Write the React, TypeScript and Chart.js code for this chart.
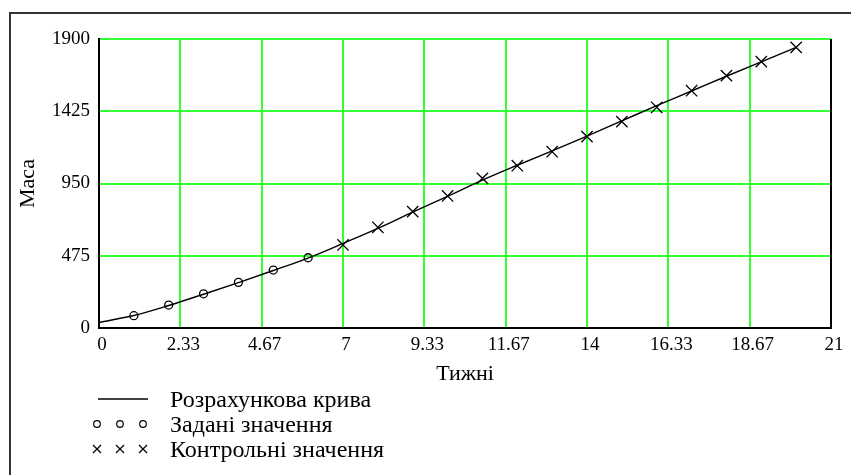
import React, { useEffect, useRef } from "react";
import { Chart, registerables } from "chart.js";

Chart.register(...registerables);

const curveWeeks = [0, 1, 2, 3, 4, 5, 6, 7, 8, 9, 10, 11, 12, 13, 14, 15, 16, 17, 18, 19, 20];
const curveMass = [37, 82, 148, 222, 298, 378, 460, 556, 655, 762, 866, 972, 1070, 1165, 1262, 1362, 1462, 1558, 1655, 1750, 1845];

const givenWeeks = [1, 2, 3, 4, 5, 6];
const givenMass = [81, 151, 225, 300, 381, 462];

const controlWeeks = [7, 8, 9, 10, 11, 12, 13, 14, 15, 16, 17, 18, 19, 20];
const controlMass = [546, 662, 765, 868, 984, 1067, 1159, 1258, 1357, 1451, 1560, 1659, 1751, 1845];

const xTickValues = [0, 2.3333, 4.6667, 7, 9.3333, 11.6667, 14, 16.3333, 18.6667, 21];
const xTickLabels = ["0", "2.33", "4.67", "7", "9.33", "11.67", "14", "16.33", "18.67", "21"];
const yTickValues = [0, 475, 950, 1425, 1900];
const yTickLabels = ["0", "475", "950", "1425", "1900"];

const xTitle = "Тижні";
const yTitle = "Маса";
const legendLabels = ["Розрахункова крива", "Задані значення", "Контрольні значення"];

const FONT = '"Liberation Serif", "Times New Roman", serif';
const GRID = "#33ff33";

export default function App() {
  const ref = useRef<HTMLCanvasElement | null>(null);

  useEffect(() => {
    if (!ref.current) return;

    const framePlugin = {
      id: "frame",
      beforeDraw(chart: any) {
        const ctx = chart.ctx;
        ctx.save();
        ctx.fillStyle = "#ffffff";
        ctx.fillRect(0, 0, chart.width, chart.height);
        ctx.strokeStyle = "#333333";
        ctx.lineWidth = 2;
        ctx.beginPath();
        ctx.moveTo(10, chart.height);
        ctx.lineTo(10, 13);
        ctx.lineTo(chart.width, 13);
        ctx.stroke();
        ctx.restore();
      },
      afterDraw(chart: any) {
        const ctx = chart.ctx;
        const a = chart.chartArea;
        ctx.save();
        ctx.strokeStyle = "#000000";
        ctx.lineWidth = 2;
        ctx.beginPath();
        ctx.moveTo(a.right, a.top);
        ctx.lineTo(a.right, a.bottom + 1);
        ctx.stroke();

        // legend
        const rows = [399, 424, 449];
        const sx = [97, 120, 143];
        ctx.strokeStyle = "#000000";
        ctx.lineWidth = 1.3;
        ctx.beginPath();
        ctx.moveTo(98, rows[0]);
        ctx.lineTo(148, rows[0]);
        ctx.stroke();
        ctx.lineWidth = 1.2;
        sx.forEach((x) => {
          ctx.beginPath();
          ctx.arc(x, rows[1], 3.3, 0, Math.PI * 2);
          ctx.stroke();
        });
        sx.forEach((x) => {
          ctx.beginPath();
          ctx.moveTo(x - 4, rows[2] - 4);
          ctx.lineTo(x + 4, rows[2] + 4);
          ctx.moveTo(x + 4, rows[2] - 4);
          ctx.lineTo(x - 4, rows[2] + 4);
          ctx.stroke();
        });
        ctx.fillStyle = "#000000";
        ctx.font = "24px " + FONT;
        ctx.textBaseline = "middle";
        ctx.textAlign = "left";
        legendLabels.forEach((t, i) => {
          ctx.fillText(t, 170, rows[i] + 2);
        });
        ctx.restore();
      },
    };

    const chart = new Chart(ref.current, {
      type: "scatter",
      data: {
        datasets: [
          {
            label: legendLabels[0],
            data: curveWeeks.map((w, i) => ({ x: w, y: curveMass[i] })),
            showLine: true,
            borderColor: "#000000",
            borderWidth: 1.4,
            pointRadius: 0,
            cubicInterpolationMode: "monotone",
          },
          {
            label: legendLabels[1],
            data: givenWeeks.map((w, i) => ({ x: w, y: givenMass[i] })),
            showLine: false,
            pointStyle: "circle",
            pointRadius: 4,
            borderColor: "#000000",
            backgroundColor: "rgba(0,0,0,0)",
            pointBorderWidth: 1.3,
          },
          {
            label: legendLabels[2],
            data: controlWeeks.map((w, i) => ({ x: w, y: controlMass[i] })),
            showLine: false,
            pointStyle: "crossRot",
            pointRadius: 8,
            borderColor: "#000000",
            pointBorderWidth: 1.3,
          },
        ],
      },
      options: {
        animation: false,
        responsive: false,
        layout: { padding: { left: 0, right: 20, top: 39, bottom: 87 } },
        plugins: {
          legend: { display: false },
          tooltip: { enabled: false },
        },
        scales: {
          x: {
            type: "linear",
            min: 0,
            max: 21,
            afterBuildTicks: (scale: any) => {
              scale.ticks = xTickValues.map((v) => ({ value: v }));
            },
            afterFit: (scale: any) => {
              scale.height = 60;
            },
            ticks: {
              autoSkip: false,
              maxRotation: 0,
              padding: 6,
              labelOffset: 3,
              color: "#000000",
              font: { family: FONT, size: 19 },
              callback: (_v: any, i: number) => xTickLabels[i],
            },
            grid: { color: GRID, lineWidth: 2, drawTicks: false },
            border: { color: "#000000", width: 2 },
            title: {
              display: true,
              text: xTitle,
              color: "#000000",
              font: { family: FONT, size: 22 },
              padding: { top: 0, bottom: 1 },
            },
          },
          y: {
            type: "linear",
            min: 0,
            max: 1900,
            afterBuildTicks: (scale: any) => {
              scale.ticks = yTickValues.map((v) => ({ value: v }));
            },
            afterFit: (scale: any) => {
              scale.width = 99;
            },
            ticks: {
              autoSkip: false,
              padding: 9,
              color: "#000000",
              font: { family: FONT, size: 19 },
              callback: (_v: any, i: number) => yTickLabels[i],
            },
            grid: { color: GRID, lineWidth: 2, drawTicks: false },
            border: { color: "#000000", width: 2 },
            title: {
              display: true,
              text: yTitle,
              color: "#000000",
              font: { family: FONT, size: 22 },
              padding: { top: 15, bottom: 0 },
            },
          },
        },
      },
      plugins: [framePlugin],
    } as any);

    return () => chart.destroy();
  }, []);

  return (
    <div style={{ position: "absolute", left: 0, top: 0, width: 851, height: 475, background: "#fff" }}>
      <canvas ref={ref} width={851} height={475} style={{ display: "block" }} />
    </div>
  );
}
